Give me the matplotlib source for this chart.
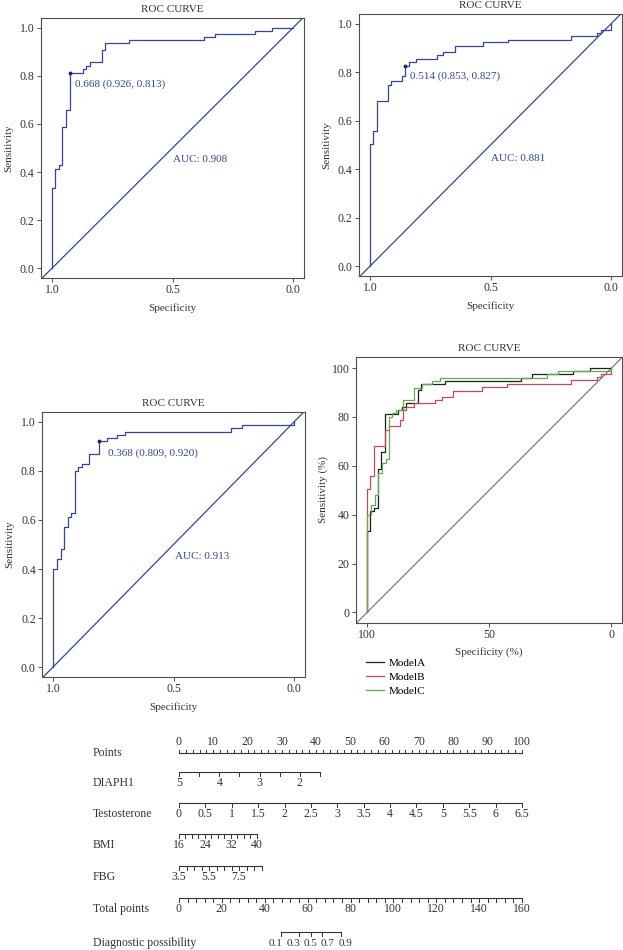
import numpy as np
import matplotlib
matplotlib.use("Agg")
import matplotlib.pyplot as plt
from matplotlib.lines import Line2D

plt.rcParams['font.family'] = ['Liberation Serif', 'DejaVu Serif']
plt.rcParams['font.size'] = 8

# ROC points (specificity, sensitivity)
spec_a = [1.0, 1.0, 0.986, 0.970, 0.956, 0.942, 0.926, 0.872, 0.858, 0.841, 0.793,
          0.779, 0.679, 0.370, 0.324, 0.159, 0.086, 0.0]
sens_a = [0.0, 0.333, 0.414, 0.428, 0.587, 0.656, 0.813, 0.829, 0.842, 0.856, 0.909,
          0.936, 0.947, 0.961, 0.975, 0.988, 1.0, 1.0]

spec_b = [1.0, 1.0, 0.986, 0.972, 0.926, 0.912, 0.867, 0.853, 0.839, 0.807, 0.722,
          0.695, 0.649, 0.530, 0.426, 0.165, 0.059, 0.041, 0.0]
sens_b = [0.0, 0.504, 0.558, 0.682, 0.746, 0.762, 0.786, 0.827, 0.841, 0.855, 0.869,
          0.883, 0.907, 0.924, 0.934, 0.949, 0.963, 0.974, 1.0]

spec_c = [1.0, 1.0, 0.982, 0.968, 0.954, 0.938, 0.924, 0.910, 0.896, 0.881, 0.851,
          0.809, 0.774, 0.733, 0.702, 0.262, 0.217, 0.0]
sens_c = [0.0, 0.400, 0.441, 0.481, 0.572, 0.612, 0.628, 0.800, 0.814, 0.828, 0.868,
          0.920, 0.934, 0.948, 0.960, 0.974, 0.987, 1.0]

thresholds = [0.668, 0.514, 0.368]
cut_spec = [0.926, 0.853, 0.809]
cut_sens = [0.813, 0.827, 0.920]
aucs = [0.908, 0.881, 0.913]
models = ['ModelA', 'ModelB', 'ModelC']

# nomogram scales: values at each end and the points they give
diaph1_vals = [5, 1.5]; diaph1_pts = [0, 41.1]
testo_vals = [0, 6.5]; testo_pts = [0, 100]
bmi_vals = [16, 40]; bmi_pts = [0, 22.7]
fbg_vals = [3.5, 9.0]; fbg_pts = [0, 24.1]
total_vals = [0, 160]
prob_labels = [0.1, 0.3, 0.5, 0.7, 0.9]
prob_total = [47.6, 56.0, 61.6, 66.7, 75.6]

blue = '#34478f'
ink = '#333333'
W, H = 623, 950

fig = plt.figure(figsize=(W / 100, H / 100), dpi=100)


def box(l, t, r, b):
    return [l / W, 1 - b / H, (r - l) / W, (b - t) / H]


def style(ax):
    for s in ax.spines.values():
        s.set_color('#4d4d4d')
        s.set_linewidth(0.8)
    ax.tick_params(direction='out', length=3, width=0.6, pad=1.5, colors=ink, labelsize=8.5)


def roc_panel(rect, spec, sens, k, txt_xy, auc_xy):
    ax = fig.add_axes(box(*rect))
    style(ax)
    ax.axline((1, 0), (0, 1), color=blue, lw=0.9)
    ax.plot(spec, sens, color=blue, lw=0.9, drawstyle='steps-post')
    ax.plot(cut_spec[k], cut_sens[k], 'o', color='#1c2a5c', ms=1.8)
    ax.text(txt_xy[0], txt_xy[1], '%.3f (%.3f, %.3f)' % (thresholds[k], cut_spec[k], cut_sens[k]),
            color=blue, ha='left', va='center', fontsize=8)
    ax.text(auc_xy[0], auc_xy[1], 'AUC: %.3f' % aucs[k], color=blue, ha='left', va='center', fontsize=8)
    ax.set_xlim(1.045, -0.045)
    ax.set_ylim(-0.04, 1.04)
    ax.set_xticks([1.0, 0.5, 0.0])
    ax.set_xticklabels(['1.0', '0.5', '0.0'])
    ax.set_yticks([0, 0.2, 0.4, 0.6, 0.8, 1.0])
    ax.set_yticklabels(['0.0', '0.2', '0.4', '0.6', '0.8', '1.0'])
    ax.set_title('ROC CURVE', fontsize=8, pad=4, color=ink)
    ax.set_xlabel('Specificity', labelpad=5, color=ink)
    ax.set_ylabel('Sensitivity', labelpad=5, color=ink)
    return ax


roc_panel((41, 18, 304, 278), spec_a, sens_a, 0, (0.903, 0.767), (0.497, 0.453))
roc_panel((359, 14, 622, 276), spec_b, sens_b, 1, (0.832, 0.783), (0.498, 0.445))
roc_panel((42, 412, 305, 677), spec_c, sens_c, 2, (0.770, 0.872), (0.494, 0.450))

# combined panel, percent scale
ax4 = fig.add_axes(box(356, 357, 622, 623))
style(ax4)
ax4.axline((100, 0), (0, 100), color='#7f7f7f', lw=0.9)
colors = ['#1e1e1e', '#c04a60', '#62aa4c']
for sp, se, c in zip([spec_a, spec_b, spec_c], [sens_a, sens_b, sens_c], colors):
    ax4.plot(np.array(sp) * 100, np.array(se) * 100, color=c, lw=0.9, drawstyle='steps-post')
ax4.set_xlim(104.5, -4.3)
ax4.set_ylim(-4.3, 104.5)
ax4.set_xticks([100, 50, 0])
ax4.set_yticks([0, 20, 40, 60, 80, 100])
ax4.set_title('ROC CURVE', fontsize=8, pad=4, color=ink)
ax4.set_xlabel('Specificity (%)', labelpad=4, color=ink)
ax4.set_ylabel('Sensitivity (%)', labelpad=3, color=ink)

handles = [Line2D([], [], color=c, lw=0.9) for c in colors]
fig.legend(handles, models, loc='upper left', bbox_to_anchor=(366 / W, 1 - 658 / H),
           frameon=False, fontsize=8, handlelength=1.6, handletextpad=0.45,
           labelspacing=0.4, borderpad=0, borderaxespad=0)

# nomogram
px0, ppp = 179, 3.43  # x of 0 points, pixels per point
nomo = fig.add_axes([0, 0, 1, 255 / H])
nomo.set_xlim(-px0 / ppp, (W - px0) / ppp)
nomo.set_ylim(H, H - 255)
nomo.axis('off')
fs = 8.5


def to_pts(v, vals, pts):
    v = np.asarray(v, dtype=float)
    return pts[0] + (v - vals[0]) * (pts[1] - pts[0]) / (vals[1] - vals[0])


def scale(y, ticks_p, labs_p, labs, up=False, tl=4):
    nomo.plot([min(ticks_p), max(ticks_p)], [y, y], color=ink, lw=0.8)
    d = -1 if up else 1
    for p in ticks_p:
        nomo.plot([p, p], [y, y + d * tl], color=ink, lw=0.7)
    for p, s in zip(labs_p, labs):
        nomo.text(p, y - 11 if up else y + 11, s, ha='center', va='center', fontsize=fs, color=ink)


name_x = (93 - px0) / ppp

# Points
scale(753, np.arange(0, 101, 2), np.arange(0, 101, 10),
      [str(v) for v in range(0, 101, 10)], up=True, tl=3)
nomo.text(name_x, 753, 'Points', ha='left', va='center', fontsize=fs, color=ink)

rows = [
    ('DIAPH1', 772, diaph1_vals, diaph1_pts, np.arange(5, 1.49, -0.5), [5, 4, 3, 2], ['5', '4', '3', '2']),
    ('Testosterone', 803, testo_vals, testo_pts, np.arange(0, 6.51, 0.5), np.arange(0, 6.51, 0.5),
     ['0', '0.5', '1', '1.5', '2', '2.5', '3', '3.5', '4', '4.5', '5', '5.5', '6', '6.5']),
    ('BMI', 834, bmi_vals, bmi_pts, np.arange(16, 40.1, 2), [16, 24, 32, 40], ['16', '24', '32', '40']),
    ('FBG', 866, fbg_vals, fbg_pts, np.arange(3.5, 9.01, 0.5), [3.5, 5.5, 7.5], ['3.5', '5.5', '7.5']),
]
for name, y, vals, pts, ticks, labv, labs in rows:
    scale(y, to_pts(ticks, vals, pts), to_pts(labv, vals, pts), labs)
    nomo.text(name_x, y + 11, name, ha='left', va='center', fontsize=fs, color=ink)

# Total points
tp = [0, 100]
scale(898, to_pts(np.arange(0, 161, 4), total_vals, tp), to_pts(np.arange(0, 161, 20), total_vals, tp),
      [str(v) for v in range(0, 161, 20)])
nomo.text(name_x, 909, 'Total points', ha='left', va='center', fontsize=fs, color=ink)

# Diagnostic possibility: ticks at the read positions, labels spread so they do not collide
pp = to_pts(prob_total, total_vals, tp)
scale(932, pp, [], [])
lab_x = np.linspace(pp[0] - 5 / ppp, pp[-1] + 4 / ppp, len(prob_labels))
for x, v in zip(lab_x, prob_labels):
    nomo.text(x, 943, str(v), ha='center', va='center', fontsize=8, color=ink)
nomo.text(name_x, 943, 'Diagnostic possibility', ha='left', va='center', fontsize=fs, color=ink)

fig.savefig('out.png', dpi=100)
